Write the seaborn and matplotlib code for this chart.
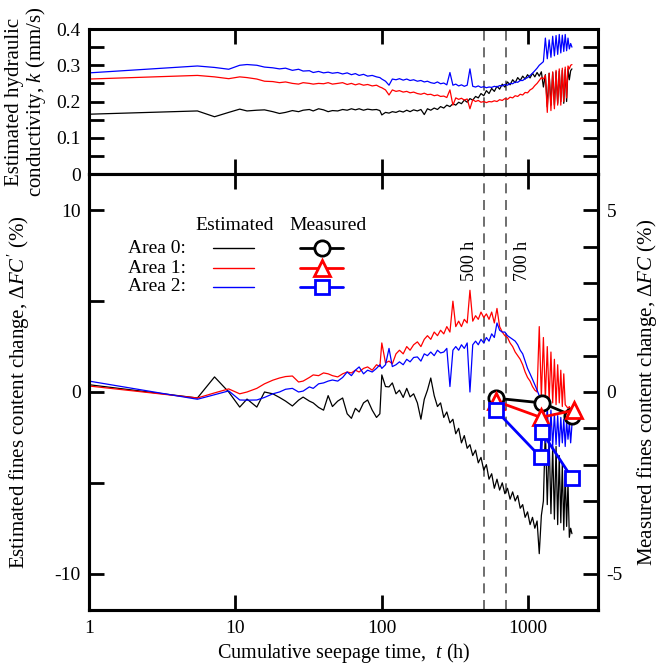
import matplotlib
matplotlib.use("Agg")
import matplotlib.pyplot as plt
import seaborn as sns
from matplotlib.ticker import FixedLocator, FixedFormatter, NullLocator, MultipleLocator
from matplotlib.lines import Line2D

# ---------------- data ----------------
T = [1, 5.5, 7.2, 9, 10.7, 12, 14, 15.8, 18, 20,
     22, 24.5, 27, 29, 32, 34, 37, 40, 43, 46,
     50, 54, 58, 62, 66, 70, 75, 80, 86, 92,
     97, 100, 106, 112, 118, 125, 132, 140, 148, 156,
     165, 175, 185, 195, 205, 216, 228, 240, 252, 265,
     278, 292, 306, 320, 335, 350, 366, 383, 400, 418,
     437, 456, 476, 497, 518, 540, 563, 587, 612, 638,
     665, 693, 722, 752, 783, 815, 848, 882, 917, 953,
     990, 1030, 1070, 1110, 1150, 1190, 1230, 1270, 1310, 1350,
     1390, 1430, 1470, 1510, 1550, 1590, 1630, 1670, 1710, 1750,
     1790, 1830, 1870, 1910, 1950, 1990]

# estimated hydraulic conductivity k (mm/s)
K_AREA0 = [0.165, 0.174, 0.158, 0.17, 0.179, 0.174, 0.176, 0.177, 0.172, 0.167,
           0.17, 0.175, 0.172, 0.176, 0.178, 0.174, 0.18, 0.177, 0.172, 0.175,
           0.174, 0.178, 0.176, 0.18, 0.177, 0.18, 0.176, 0.179, 0.177, 0.178,
           0.175, 0.163, 0.17, 0.168, 0.172, 0.17, 0.174, 0.171, 0.176, 0.172,
           0.177, 0.174, 0.178, 0.164, 0.18, 0.176, 0.182, 0.178, 0.186, 0.182,
           0.19, 0.186, 0.194, 0.19, 0.198, 0.194, 0.204, 0.198, 0.208, 0.204,
           0.214, 0.21, 0.222, 0.216, 0.23, 0.222, 0.236, 0.228, 0.242, 0.234,
           0.248, 0.24, 0.254, 0.246, 0.26, 0.252, 0.266, 0.258, 0.27, 0.262,
           0.274, 0.265, 0.278, 0.268, 0.28, 0.27, 0.282, 0.24, 0.274, 0.185,
           0.278, 0.19, 0.28, 0.19, 0.282, 0.195, 0.284, 0.2, 0.286, 0.195,
           0.288, 0.2, 0.29, 0.26, 0.285, 0.29]
K_AREA1 = [0.262, 0.272, 0.268, 0.263, 0.268, 0.266, 0.262, 0.256, 0.255, 0.252,
           0.254, 0.25, 0.248, 0.252, 0.25, 0.248, 0.25, 0.249, 0.252, 0.248,
           0.25, 0.252, 0.247, 0.25, 0.246, 0.249, 0.245, 0.247, 0.243, 0.245,
           0.24, 0.238, 0.232, 0.218, 0.232, 0.228, 0.23, 0.226, 0.228, 0.224,
           0.226, 0.222, 0.22, 0.223, 0.219, 0.22, 0.216, 0.218, 0.214, 0.215,
           0.211, 0.232, 0.19, 0.21, 0.206, 0.209, 0.204, 0.207, 0.18, 0.205,
           0.2, 0.203, 0.198, 0.2, 0.197, 0.2, 0.199, 0.202, 0.2, 0.205,
           0.203, 0.208, 0.206, 0.212, 0.21, 0.216, 0.214, 0.22, 0.218, 0.225,
           0.224, 0.232, 0.236, 0.244, 0.25, 0.258, 0.266, 0.262, 0.272, 0.17,
           0.278, 0.175, 0.282, 0.18, 0.286, 0.19, 0.29, 0.19, 0.292, 0.2,
           0.295, 0.21, 0.298, 0.29, 0.3, 0.302]
K_AREA2 = [0.279, 0.298, 0.294, 0.289, 0.30, 0.302, 0.30, 0.295, 0.293, 0.29,
           0.292, 0.286, 0.289, 0.284, 0.285, 0.28, 0.283, 0.279, 0.281, 0.278,
           0.28, 0.276, 0.279, 0.274, 0.277, 0.272, 0.275, 0.27, 0.272, 0.268,
           0.266, 0.262, 0.256, 0.245, 0.262, 0.26, 0.263, 0.259, 0.262, 0.258,
           0.26, 0.256, 0.258, 0.254, 0.256, 0.252, 0.25, 0.254, 0.249, 0.251,
           0.246, 0.28, 0.245, 0.248, 0.243, 0.246, 0.242, 0.245, 0.29, 0.242,
           0.24, 0.243, 0.239, 0.241, 0.238, 0.24, 0.239, 0.242, 0.24, 0.244,
           0.243, 0.247, 0.245, 0.25, 0.249, 0.254, 0.253, 0.258, 0.258, 0.263,
           0.266, 0.272, 0.278, 0.285, 0.292, 0.3, 0.305, 0.31, 0.375, 0.318,
           0.37, 0.322, 0.38, 0.326, 0.382, 0.33, 0.385, 0.334, 0.383, 0.338,
           0.385, 0.34, 0.375, 0.345, 0.36, 0.35]

# estimated fines content change dFC' (%)
FC_AREA0 = [0.4, -0.33, 0.83, 0.0, -0.83, -0.39, -0.83, 0.0, -0.1, -0.3,
            -0.5, -0.77, -0.45, -0.28, -0.5, -0.6, -0.85, -1.0, -0.2, -0.8,
            -0.5, -0.33, -1.2, -1.45, -0.9, -1.1, -0.6, -0.44, -1.0, -1.4,
            -1.2, 0.94, 0.3, 0.28, 0.5, -0.1, 0.1, -0.3, 0.2, -0.27,
            -0.1, -0.6, -1.5, -0.4, 0.1, 0.77, -0.2, -0.8, -0.6, -1.4,
            -1.1, -1.7, -1.5, -2.3, -2.0, -2.8, -2.4, -3.1, -2.9, -3.5,
            -3.2, -3.9, -3.6, -4.3, -4.0, -4.8, -4.5, -5.3, -4.8, -5.4,
            -5.0, -5.6, -5.3, -5.9, -5.5, -6.0, -5.7, -6.4, -6.2, -6.9,
            -6.6, -7.3, -6.9, -7.5, -7.1, -8.9, -6.8, -6.0, -2.0, -6.2,
            -2.5, -6.7, -3.0, -7.0, -3.0, -7.3, -3.5, -7.2, -4.0, -7.6,
            -4.5, -7.4, -5.0, -8.0, -7.5, -7.8]
FC_AREA1 = [0.33, -0.33, -0.05, 0.17, -0.1, 0.0, 0.2, 0.45, 0.65, 0.77,
            0.85, 0.88, 0.55, 0.6, 0.8, 0.94, 0.9, 1.05, 1.0, 0.9,
            0.83, 1.0, 1.1, 1.05, 1.2, 1.1, 1.3, 1.38, 1.2, 1.5,
            1.4, 2.7, 1.6, 1.7, 1.55, 2.1, 2.3, 2.1, 2.5, 2.3,
            2.6, 2.76, 2.5, 2.9, 3.1, 2.9, 3.3, 3.1, 3.4, 3.2,
            3.6, 3.3, 5.0, 3.6, 3.9, 3.6, 4.0, 3.8, 5.6, 3.9,
            4.2, 4.0, 4.4, 4.1, 4.3, 4.0, 4.4, 3.8, 4.6, 3.6,
            3.3, 3.1, 3.0, 2.7, 2.5, 2.2, 2.0, 1.8, 1.5, 1.1,
            0.8, 0.6, 0.3, 0.1, 0.0, 3.6, -0.3, 3.0, -0.4, 2.5,
            -0.5, 2.2, -0.6, 1.8, -0.7, 1.5, -0.6, 1.2, -0.8, 1.0,
            -0.7, -0.8, -0.9, -0.8, -1.0, -0.9]
FC_AREA2 = [0.6, -0.4, -0.15, 0.06, -0.44, -0.45, -0.44, -0.3, -0.1, 0.0,
            0.15, 0.2, 0.0, 0.05, 0.28, 0.2, 0.45, 0.5, 0.6, 0.66,
            0.6, 0.8, 1.1, 0.9, 1.2, 1.38, 1.0, 1.2, 1.1, 1.3,
            1.5, 1.3, 1.5, 2.4, 1.4, 1.5, 1.66, 1.5, 1.8, 1.66,
            1.9, 1.93, 1.7, 2.1, 2.0, 2.2, 2.0, 2.3, 2.15, 2.2,
            2.4, 0.3, 2.3, 2.5, 2.3, 2.6, 2.4, 2.7, 0.0, 2.6,
            2.8, 2.6, 2.9, 2.7, 3.0, 2.8, 3.2, 3.0, 3.8, 3.4,
            3.3, 3.3, 3.1, 3.0, 2.9, 2.8, 2.6, 2.3, 2.1, 1.7,
            1.3, 1.0, 0.7, 0.4, 0.1, -0.2, -3.0, -0.5, -2.8, -0.8,
            -3.2, -1.0, -3.0, -1.2, -2.9, -1.3, -3.0, -1.4, -2.8, -1.5,
            -3.0, -1.6, -2.6, -1.7, -2.8, -1.8]

# measured fines content change dFC (%)
MT_AREA0 = [600, 1240, 2000]
M_AREA0 = [-0.17, -0.3, -0.65]
MT_AREA1 = [600, 1220, 2070]
M_AREA1 = [-0.25, -0.7, -0.5]
MT_AREA2 = [600, 1220, 1240, 2000]
M_AREA2 = [-0.5, -1.8, -1.1, -2.38]

AREAS = ["Area 0:", "Area 1:", "Area 2:"]
COLORS = ["#000000", "#ff0000", "#0000ff"]
MARKERS = ["o", "^", "s"]
VLINES = [500, 700]
VLINE_LABELS = ["500 h", "700 h"]

X_TICKS = [1, 10, 100, 1000]
X_TICKLABELS = ["1", "10", "100", "1000"]
K_TICKS = [0, 0.1, 0.2, 0.3, 0.4]
K_TICKLABELS = ["0", "0.1", "0.2", "0.3", "0.4"]
L_TICKS = [-10, -5, 0, 5, 10]
L_TICKLABELS = ["-10", "", "0", "", "10"]
R_TICKS = [-5, 0, 5]
R_TICKLABELS = ["-5", "0", "5"]

# ---------------- style ----------------
sns.set_theme(style="ticks")
plt.rcParams.update({
    "font.family": ["Liberation Serif", "DejaVu Serif"],
    "font.size": 14,
    "mathtext.fontset": "custom",
    "mathtext.rm": "Liberation Serif",
    "mathtext.it": "Liberation Serif:italic",
    "axes.unicode_minus": False,
    "axes.linewidth": 2.2,
    "axes.edgecolor": "black",
    "axes.labelcolor": "black",
    "text.color": "black",
    "xtick.color": "black",
    "ytick.color": "black",
    "xtick.direction": "in",
    "ytick.direction": "in",
    "xtick.major.size": 11,
    "ytick.major.size": 11,
    "xtick.minor.size": 11,
    "ytick.minor.size": 11,
    "xtick.major.width": 2,
    "ytick.major.width": 2,
    "xtick.minor.width": 2,
    "ytick.minor.width": 2,
    "xtick.labelsize": 14,
    "ytick.labelsize": 14,
    "xtick.major.pad": 7,
    "ytick.major.pad": 6,
    "axes.labelsize": 15,
})

fig = plt.figure(figsize=(6.59, 6.67), dpi=100)
ax_k = fig.add_axes([0.1351, 0.7391, 0.7724, 0.2174])
ax = fig.add_axes([0.1351, 0.0855, 0.7724, 0.6536])
ax2 = ax.twinx()

# ---------------- top panel ----------------
for vals, col in zip([K_AREA0, K_AREA1, K_AREA2], COLORS):
    sns.lineplot(x=T, y=vals, ax=ax_k, color=col, linewidth=0.9, estimator=None)
for v in VLINES:
    ax_k.axvline(v, color="#555555", lw=1.2, ls=(0, (6, 4)), zorder=1)

ax_k.set_xscale("log")
ax_k.set_xlim(1, 3000)
ax_k.set_ylim(0, 0.4)
ax_k.xaxis.set_major_locator(FixedLocator(X_TICKS[1:]))
ax_k.xaxis.set_minor_locator(NullLocator())
ax_k.yaxis.set_major_locator(FixedLocator(K_TICKS))
ax_k.yaxis.set_major_formatter(FixedFormatter(K_TICKLABELS))
ax_k.yaxis.set_minor_locator(MultipleLocator(0.05))
ax_k.tick_params(axis="x", which="both", top=True, bottom=True, labelbottom=False)
ax_k.tick_params(axis="y", which="both", left=True, right=True)
ax_k.set_xlabel("")
ax_k.set_ylabel("Estimated hydraulic\nconductivity, $k$ (mm/s)", linespacing=1.0)
ax_k.yaxis.set_label_coords(-0.08, 0.5)

# ---------------- bottom panel ----------------
for vals, col in zip([FC_AREA0, FC_AREA1, FC_AREA2], COLORS):
    sns.lineplot(x=T, y=vals, ax=ax, color=col, linewidth=0.9, estimator=None)
for v, lab in zip(VLINES, VLINE_LABELS):
    ax.axvline(v, color="#555555", lw=1.2, ls=(0, (6, 4)), zorder=1)
ax.text(VLINES[0] * 0.79, 7.2, VLINE_LABELS[0], rotation=90, ha="center", va="center", fontsize=13)
ax.text(VLINES[1] * 1.3, 7.2, VLINE_LABELS[1], rotation=90, ha="center", va="center", fontsize=13)

for mt, mv, col, mk in zip([MT_AREA0, MT_AREA1, MT_AREA2], [M_AREA0, M_AREA1, M_AREA2], COLORS, MARKERS):
    sns.lineplot(x=mt, y=mv, ax=ax2, color=col, linewidth=2, estimator=None,
                 marker=mk, markersize=11 if mk != "s" else 10.5,
                 markerfacecolor="white", markeredgecolor=col, markeredgewidth=2)

ax.set_xscale("log")
ax.set_xlim(1, 3000)
ax.set_ylim(-12, 12)
ax2.set_ylim(-6, 6)
ax.xaxis.set_major_locator(FixedLocator(X_TICKS))
ax.xaxis.set_major_formatter(FixedFormatter(X_TICKLABELS))
ax.xaxis.set_minor_locator(NullLocator())
ax.tick_params(axis="x", which="both", top=True, bottom=True)
ax.yaxis.set_major_locator(FixedLocator(L_TICKS))
ax.yaxis.set_major_formatter(FixedFormatter(L_TICKLABELS))
ax.yaxis.set_minor_locator(NullLocator())
ax2.yaxis.set_major_locator(FixedLocator(R_TICKS))
ax2.yaxis.set_major_formatter(FixedFormatter(R_TICKLABELS))
ax2.yaxis.set_minor_locator(MultipleLocator(1))
ax2.tick_params(axis="y", which="both", right=True, left=False)

ax.set_xlabel("Cumulative seepage time,  $t$ (h)", fontsize=14.5)
ax.xaxis.set_label_coords(0.5, -0.072)
ax.set_ylabel("Estimated fines content change, $\\Delta FC'$ (%)")
ax.yaxis.set_label_coords(-0.112, 0.5)
ax2.set_ylabel("Measured fines content change, $\\Delta FC$ (%)")
ax2.yaxis.set_label_coords(1.073, 0.5)

# ---------------- legend (two columns) ----------------
ax.text(0.287, 0.881, "Estimated", ha="center", va="center", transform=ax.transAxes)
ax.text(0.47, 0.881, "Measured", ha="center", va="center", transform=ax.transAxes)
for i, (lab, col, mk) in enumerate(zip(AREAS, COLORS, MARKERS)):
    y = [0.830, 0.784, 0.741][i]
    ax.text(0.19, y, lab, ha="right", va="center", transform=ax.transAxes)
    ax.add_line(Line2D([0.244, 0.324], [y, y], transform=ax.transAxes, color=col, lw=1.0))
    ax2.add_line(Line2D([0.415, 0.499], [y, y], transform=ax2.transAxes, color=col, lw=2))
    ax2.add_line(Line2D([0.457], [y], transform=ax2.transAxes, color=col, marker=mk,
                        markersize=11 if mk != "s" else 10.5, markerfacecolor="white",
                        markeredgecolor=col, markeredgewidth=2, lw=0))

fig.savefig("out.png", dpi=100)
